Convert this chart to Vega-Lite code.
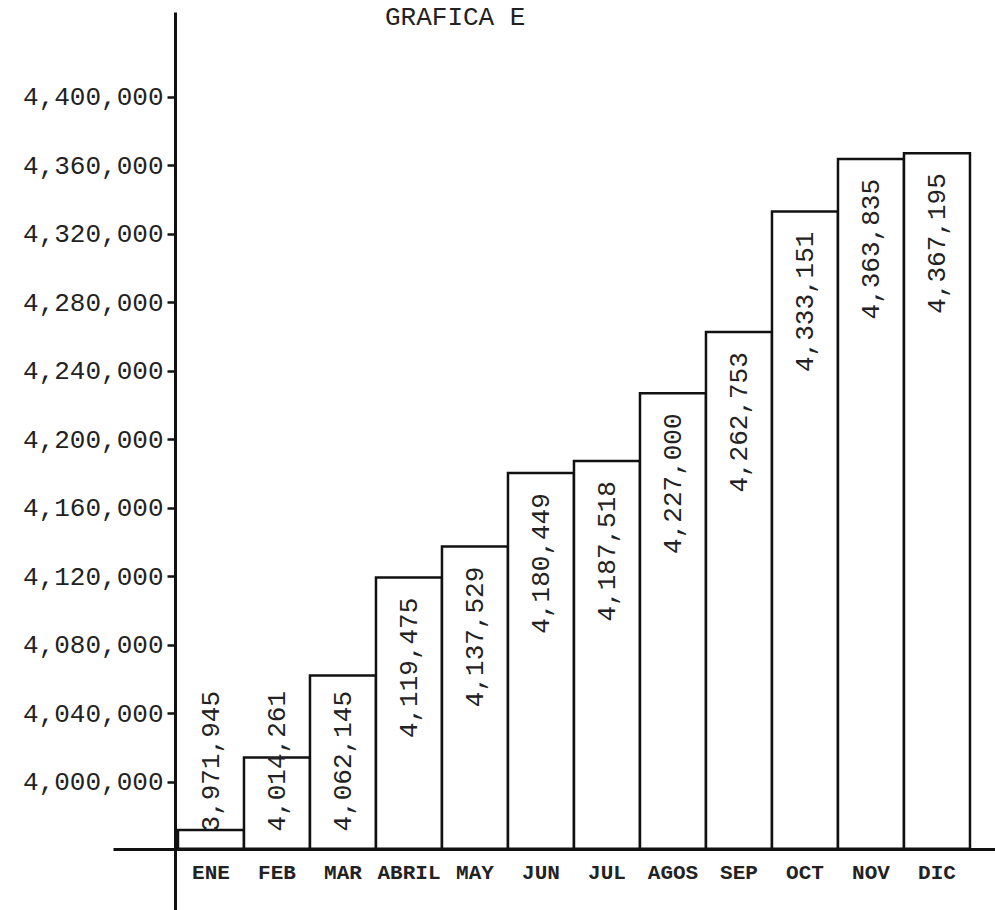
{
  "$schema": "https://vega.github.io/schema/vega-lite/v6.json",
  "width": 882,
  "height": 898,
  "autosize": {"type": "none"},
  "padding": {"left": 113, "top": 12, "right": 0, "bottom": 0},
  "background": "white",
  "config": {"view": {"stroke": null}, "font": "Liberation Mono"},
  "title": {
    "text": "GRAFICA E",
    "anchor": "start",
    "frame": "group",
    "dx": 272,
    "dy": 44,
    "offset": 0,
    "baseline": "bottom",
    "font": "Liberation Mono",
    "fontSize": 26,
    "fontWeight": "normal",
    "color": "#222"
  },
  "data": {
    "values": [
      {"mes": "ENE", "valor": 3971945},
      {"mes": "FEB", "valor": 4014261},
      {"mes": "MAR", "valor": 4062145},
      {"mes": "ABRIL", "valor": 4119475},
      {"mes": "MAY", "valor": 4137529},
      {"mes": "JUN", "valor": 4180449},
      {"mes": "JUL", "valor": 4187518},
      {"mes": "AGOS", "valor": 4227000},
      {"mes": "SEP", "valor": 4262753},
      {"mes": "OCT", "valor": 4333151},
      {"mes": "NOV", "valor": 4363835},
      {"mes": "DIC", "valor": 4367195}
    ]
  },
  "layer": [
    {
      "mark": {"type": "bar", "fill": "white", "stroke": "#111", "strokeWidth": 2.5},
      "encoding": {
        "x": {
          "field": "mes",
          "type": "nominal",
          "sort": null,
          "scale": {"paddingInner": 0, "paddingOuter": 0.6818, "align": 0.722},
          "axis": {
            "orient": "bottom",
            "offset": -61,
            "title": null,
            "ticks": false,
            "domainColor": "#111",
            "domainWidth": 3,
            "labelAngle": 0,
            "labelFont": "Liberation Mono",
            "labelFontSize": 21,
            "labelFontWeight": "bold",
            "labelColor": "#222",
            "labelPadding": 12,
            "labelBaseline": "top"
          }
        },
        "y": {
          "field": "valor",
          "type": "quantitative",
          "scale": {"domain": [3925255, 4449635], "zero": false, "nice": false},
          "axis": {
            "values": [4000000, 4040000, 4080000, 4120000, 4160000, 4200000, 4240000, 4280000, 4320000, 4360000, 4400000],
            "labelExpr": "format(datum.value, ',')",
            "offset": -62,
            "title": null,
            "grid": false,
            "domainColor": "#111",
            "domainWidth": 3,
            "tickColor": "#111",
            "tickWidth": 2.5,
            "tickSize": 8,
            "labelFont": "Liberation Mono",
            "labelFontSize": 26,
            "labelColor": "#222",
            "labelPadding": 4
          }
        },
        "y2": {"datum": 3961000}
      }
    },
    {
      "mark": {"type": "text", "angle": 270, "align": "right", "baseline": "middle", "dx": -20, "fontSize": 26, "font": "Liberation Mono", "color": "#222"},
      "encoding": {
        "x": {"field": "mes", "type": "nominal", "sort": null},
        "y": {
          "field": "valor",
          "type": "quantitative",
          "scale": {"domain": [4065000, 4449635], "range": [659, 0], "clamp": true, "zero": false, "nice": false},
          "axis": null
        },
        "text": {"field": "valor", "type": "quantitative", "format": ","}
      }
    }
  ],
  "resolve": {"scale": {"y": "independent"}}
}
